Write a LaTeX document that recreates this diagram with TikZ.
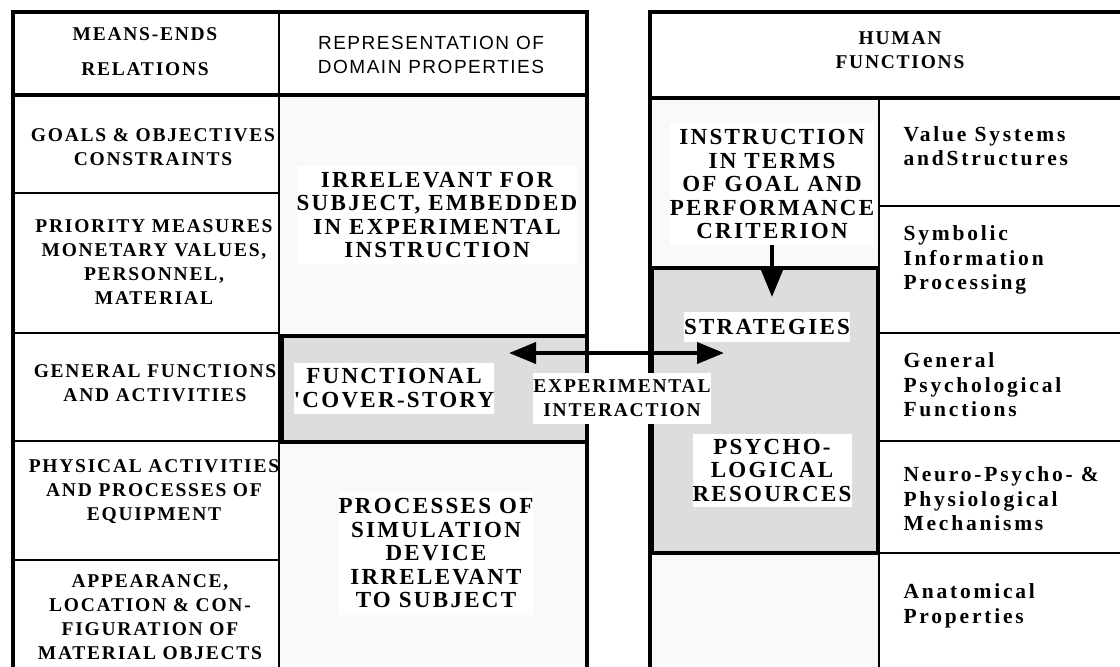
\documentclass[tikz,border=0pt]{standalone}
\usepackage{fontspec}
\usetikzlibrary{arrows.meta,positioning}
\newfontfamily\serifsp[LetterSpace=9]{Liberation Serif}
\newfontfamily\serifbig[LetterSpace=10]{Liberation Serif}
\newfontfamily\serifhum[LetterSpace=13]{Liberation Serif}
\newfontfamily\sanssp[LetterSpace=8]{Liberation Sans}
\newcommand{\cellfont}{\serifsp\bfseries\fontsize{19.5}{24}\selectfont}
\newcommand{\bigfont}{\serifbig\bfseries\fontsize{23}{23.5}\selectfont}
\newcommand{\humfont}{\serifhum\bfseries\fontsize{21.5}{24.5}\selectfont}
\newcommand{\headfont}{\sanssp\fontsize{19}{24}\selectfont}
\definecolor{cellgray}{gray}{0.975}
\definecolor{boxgray}{gray}{0.865}
\tikzstyle{cell}=[align=center,font=\cellfont]
\tikzstyle{whitebox}=[fill=white,align=center,inner sep=0pt,font=\bigfont]
\tikzstyle{hum}=[anchor=west,align=left,font=\humfont]
\tikzstyle{frame}=[line width=4.5pt]
\tikzstyle{rule}=[line width=2.5pt]
\tikzstyle{bigarrow}=[line width=4pt,>={Triangle[length=27pt,width=21pt]}]

\begin{document}
\begin{tikzpicture}[x=1pt,y=-1pt]
\useasboundingbox (0,0) rectangle (1120,667);
% left table
\fill[cellgray] (280,95) rectangle (587,667);
\filldraw[fill=boxgray,line width=4pt] (282,336) rectangle (587,442);
\draw[frame] (13,669) -- (13,12) -- (587,12) -- (587,669);
\draw[frame] (13,95) -- (587,95);
\draw[rule] (279,12) -- (279,669);
\foreach \y in {193,333,441,560} \draw[rule] (13,\y) -- (279,\y);
% right table
\fill[cellgray] (650,98) rectangle (878,667);
\filldraw[fill=boxgray,line width=4pt] (652,268) rectangle (878,553);
\draw[frame] (650,669) -- (650,12) -- (1122,12);
\draw[frame] (650,98) -- (1122,98);
\draw[rule] (879,98) -- (879,669);
\foreach \y in {206,333,441,553} \draw[rule] (879,\y) -- (1122,\y);

\node[cell] (means) at (145,52) {MEANS-ENDS\\[11pt]RELATIONS};
\node[align=center,font=\headfont] (repr) at (431,55) {REPRESENTATION OF\\DOMAIN PROPERTIES};
\node[cell] (goals) at (153,147) {GOALS \& OBJECTIVES\\CONSTRAINTS};
\node[cell] (prio) at (154,262) {PRIORITY MEASURES\\MONETARY VALUES,\\PERSONNEL,\\MATERIAL};
\node[cell] (genfn) at (155,383) {GENERAL FUNCTIONS\\AND ACTIVITIES};
\node[cell] (phys) at (154,492) {PHYSICAL ACTIVITIES\\AND PROCESSES OF\\EQUIPMENT};
\node[cell] (appear) at (150,617) {APPEARANCE,\\LOCATION \& CON-\\FIGURATION OF\\MATERIAL OBJECTS};

\node[whitebox,minimum width=276pt,minimum height=98pt] (irrel) at (437,215)
  {IRRELEVANT FOR\\SUBJECT, EMBEDDED\\IN EXPERIMENTAL\\INSTRUCTION};
\node[whitebox,minimum width=190pt,minimum height=51pt] (cover) at (394,388)
  {FUNCTIONAL\\'COVER-STORY};
\node[whitebox,minimum width=186pt,minimum height=123pt] (proc) at (436,553)
  {PROCESSES OF\\SIMULATION\\DEVICE\\IRRELEVANT\\TO SUBJECT};

\node[cell] (human) at (900,50) {HUMAN\\FUNCTIONS};
\node[whitebox,minimum width=195pt,minimum height=122pt] (instr) at (772,184)
  {INSTRUCTION\\IN TERMS\\OF GOAL AND\\PERFORMANCE\\CRITERION};
\node[whitebox,minimum width=158pt,minimum height=30pt] (strat) at (767,327) {STRATEGIES};
\node[whitebox,minimum width=156pt,minimum height=73pt] (psych) at (772,470)
  {PSYCHO-\\LOGICAL\\RESOURCES};

\node[hum] (valsys) at (900,146) {Value Systems\\andStructures};
\node[hum] (symb) at (900,260) {Symbolic\\Information\\Processing};
\node[hum] (genpsy) at (900,385) {General\\Psychological\\Functions};
\node[hum] (neuro) at (900,499) {Neuro-Psycho- \&\\Physiological\\Mechanisms};
\node[hum] (anat) at (900,606) {Anatomical\\Properties};

\coordinate (ileft) at (509,353);
\coordinate (iright) at (724,353);
\coordinate (stin) at (772,297);
\draw[bigarrow,<->] (ileft) -- (iright);
\draw[bigarrow,->] (instr.south -| stin) -- (stin);
\node[cell,fill=white,inner sep=0pt,minimum width=177pt,minimum height=51pt] (expint) at (622,398)
  {EXPERIMENTAL\\INTERACTION};
\end{tikzpicture}
\end{document}
